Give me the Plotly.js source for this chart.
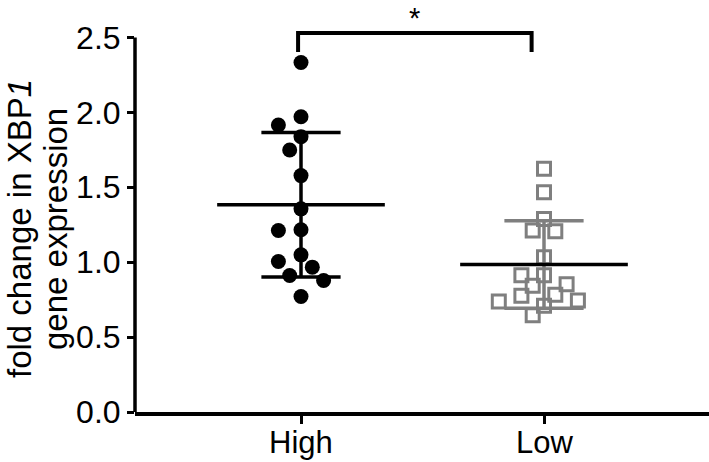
<!DOCTYPE html>
<html>
<head>
<meta charset="utf-8">
<script src="https://cdn.plot.ly/plotly-3.0.1.min.js"></script>
<style>
  html, body { margin: 0; padding: 0; background: #fff; }
  #chart { width: 709px; height: 462px; }
</style>
</head>
<body>
<div id="chart"></div>
<script>
// ---- data ----
const groups = ["High", "Low"];
const highValues = [2.333, 1.971, 1.916, 1.838, 1.749, 1.578, 1.356, 1.211, 1.216, 1.049, 1.005, 0.967, 0.911, 0.878, 0.771];
const lowValues = [1.623, 1.467, 1.289, 1.211, 1.207, 1.033, 0.913, 0.913, 0.853, 0.842, 0.783, 0.776, 0.745, 0.738, 0.709, 0.645];
const yTickVals = [0, 0.5, 1.0, 1.5, 2.0, 2.5];
const yTickText = ["0.0", "0.5", "1.0", "1.5", "2.0", "2.5"];
const yTitleLines = ["fold change in XBP<i>1</i>", "gene expression"];
const sigLabel = "*";

// ---- layout constants ----
const W = 709, H = 462;
const M = { l: 135, r: 0, t: 0, b: 50 };
const xRange = [-0.6831, 1.679];
const yRange = [0, 2.75];
const plotW = W - M.l - M.r, plotH = H - M.t - M.b;
const pxPerX = plotW / (xRange[1] - xRange[0]);
const pxPerY = plotH / (yRange[1] - yRange[0]);

function mean(a) { return a.reduce((s, v) => s + v, 0) / a.length; }
function sd(a) { const m = mean(a); return Math.sqrt(a.reduce((s, v) => s + (v - m) * (v - m), 0) / (a.length - 1)); }

// simple beeswarm: offsets on a grid, avoiding overlaps (computed in pixels)
function swarm(vals, center, diam, stepPx) {
  const order = vals.map((v, i) => i).sort((a, b) => vals[b] - vals[a]);
  const placed = [];
  const xs = new Array(vals.length);
  for (const i of order) {
    const py = vals[i] * pxPerY;
    for (let k = 0; k < 60; k++) {
      const m = k === 0 ? 0 : (k % 2 ? -Math.ceil(k / 2) : Math.ceil(k / 2));
      const px = m * stepPx;
      let ok = true;
      for (const p of placed) {
        const dx = px - p[0], dy = py - p[1];
        if (dx * dx + dy * dy < diam * diam - 1e-6) { ok = false; break; }
      }
      if (ok) { placed.push([px, py]); xs[i] = center + px / pxPerX; break; }
    }
  }
  return xs;
}

const xHigh = swarm(highValues, 0, 15, 11.3);
const xLow = swarm(lowValues, 1, 14.5, 11.3);

const grey = "#7f7f7f";
const traces = [
  {
    type: "scatter", mode: "markers", x: xHigh, y: highValues, name: groups[0],
    marker: { symbol: "circle", size: 15, color: "#000" }, cliponaxis: false, hoverinfo: "y"
  },
  {
    type: "scatter", mode: "markers", x: xLow, y: lowValues, name: groups[1],
    marker: { symbol: "square-open", size: 13, color: grey, line: { width: 3, color: grey } }, cliponaxis: false, hoverinfo: "y"
  }
];

const shapes = [];
function summary(vals, c, color) {
  const m = mean(vals), s = sd(vals);
  const lw = 3.5;
  shapes.push({ type: "line", xref: "x", yref: "y", x0: c, x1: c, y0: m - s, y1: m + s, line: { color: color, width: lw }, layer: "above" });
  shapes.push({ type: "line", xref: "x", yref: "y", x0: c - 0.163, x1: c + 0.163, y0: m + s, y1: m + s, line: { color: color, width: lw }, layer: "above" });
  shapes.push({ type: "line", xref: "x", yref: "y", x0: c - 0.163, x1: c + 0.163, y0: m - s, y1: m - s, line: { color: color, width: lw }, layer: "above" });
  shapes.push({ type: "line", xref: "x", yref: "y", x0: c - 0.345, x1: c + 0.345, y0: m, y1: m, line: { color: "#000", width: lw }, layer: "above" });
}
summary(highValues, 0, "#000");
summary(lowValues, 1, grey);

// y axis line from 0 to 2.5
shapes.push({ type: "line", xref: "paper", yref: "paper", x0: 0, x1: 0, y0: 0, y1: yTickVals[yTickVals.length - 1] / yRange[1], line: { color: "#000", width: 3.5 } });

// significance bracket
const bTop = 2.53, bBot = 2.403, bx0 = -0.012, bx1 = 0.949;
shapes.push({ type: "path", xref: "x", yref: "y",
  path: `M ${bx0},${bBot} L ${bx0},${bTop} L ${bx1},${bTop} L ${bx1},${bBot}`,
  line: { color: "#000", width: 4 } });

const font = "Liberation Sans, Arial, sans-serif";
const annotations = [];
// y title, two lines with tight spacing
const yTitleCenter = (plotH - 229) / pxPerY;
const yTitleX = [19, 55];
yTitleLines.forEach((t, i) => annotations.push({
  text: t, xref: "paper", yref: "y", x: (yTitleX[i] - M.l) / plotW, y: yTitleCenter,
  xanchor: "center", yanchor: "middle", textangle: -90,
  showarrow: false, font: { family: font, size: 33, color: "#000" }
}));
// x category labels
groups.forEach((g, i) => annotations.push({
  text: g, xref: "x", yref: "paper", x: i, y: 0, xanchor: "center", yanchor: "top",
  yshift: -11, showarrow: false, font: { family: font, size: 31, color: "#000" }
}));
// significance star
annotations.push({
  text: sigLabel, xref: "x", yref: "y", x: 0.468, y: 2.632,
  xanchor: "center", yanchor: "middle", showarrow: false,
  font: { family: font, size: 29, color: "#000" }
});

const layout = {
  width: W, height: H,
  margin: M,
  paper_bgcolor: "#fff", plot_bgcolor: "#fff",
  showlegend: false,
  font: { family: font, color: "#000", size: 32 },
  xaxis: {
    range: xRange, tickvals: [0, 1], ticktext: groups, showticklabels: false,
    showline: true, linecolor: "#000", linewidth: 3.5,
    ticks: "outside", ticklen: 8, tickwidth: 3, tickcolor: "#000",
    showgrid: false, zeroline: false
  },
  yaxis: {
    range: yRange, tickvals: yTickVals, ticktext: yTickText,
    showline: false, ticks: "outside", ticklen: 7, tickwidth: 3, tickcolor: "#000",
    showgrid: false, zeroline: false,
    tickfont: { family: font, size: 32, color: "#000" }
  },
  shapes: shapes,
  annotations: annotations
};

Plotly.newPlot("chart", traces, layout, { displayModeBar: false, staticPlot: true });
</script>
</body>
</html>
